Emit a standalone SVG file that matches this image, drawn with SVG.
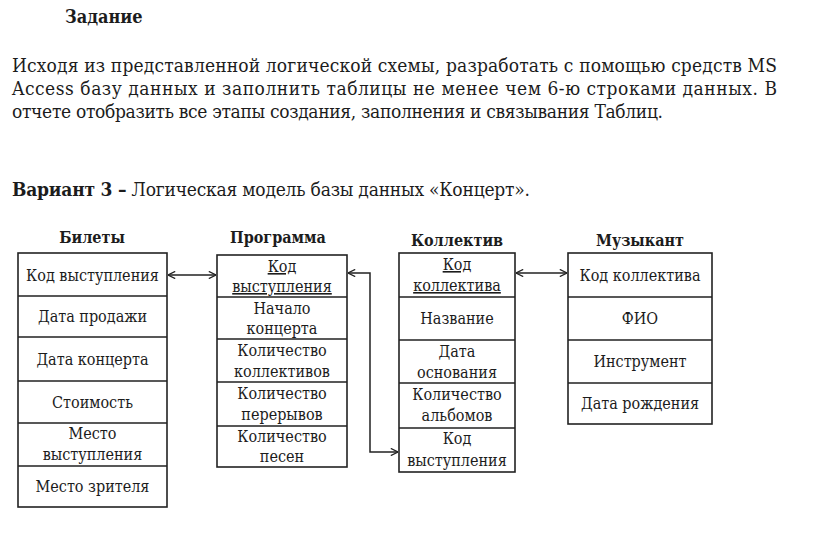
<svg xmlns="http://www.w3.org/2000/svg" width="816" height="542" viewBox="0 0 816 542">
<style>
text{font-family:'DejaVu Serif Condensed','DejaVu Serif',serif;font-stretch:condensed;fill:#1c1c1c}
.h{font-size:18px;font-weight:bold}
.p{font-size:19px}
.t{font-size:16px;font-weight:bold;text-anchor:middle}
.f{font-size:16px;text-anchor:middle}
.u{text-decoration:underline}
.box{fill:#fff;stroke:#222;stroke-width:1.6}
.sep{stroke:#222;stroke-width:1.6}
.c{fill:none;stroke:#222;stroke-width:1.5}
</style>
<defs>
<marker id="ah" viewBox="0 0 10 10" refX="10" refY="5" markerWidth="8" markerHeight="8" markerUnits="userSpaceOnUse" orient="auto-start-reverse">
<path d="M1,0.5 L10,5 L1,9.5" fill="none" stroke="#222" stroke-width="1.6"/>
</marker>
</defs>
<rect width="816" height="542" fill="#fff"/>
<g id="header">
<text class="h" x="65" y="23">Задание</text>
<text class="p" x="12" y="72" textLength="765">Исходя из представленной логической схемы, разработать с помощью средств MS</text>
<text class="p" x="12" y="95" textLength="765">Access базу данных и заполнить таблицы не менее чем 6-ю строками данных. В</text>
<text class="p" x="12" y="118" textLength="651">отчете отобразить все этапы создания, заполнения и связывания Таблиц.</text>
<text class="p" x="12" y="196" textLength="518"><tspan font-weight="bold">Вариант 3 –</tspan> Логическая модель базы данных «Концерт».</text>
</g>
<g id="bilety">
<text class="t" x="92" y="243">Билеты</text>
<rect class="box" x="18" y="253" width="149" height="254"/>
<path class="sep" d="M18,296H167M18,337H167M18,381H167M18,423H167M18,466H167"/>
<text class="f" x="92.5" y="281">Код выступления</text>
<text class="f" x="92.5" y="322">Дата продажи</text>
<text class="f" x="92.5" y="365">Дата концерта</text>
<text class="f" x="92.5" y="408">Стоимость</text>
<text class="f" x="92.5" y="439">Место</text>
<text class="f" x="92.5" y="460">выступления</text>
<text class="f" x="92.5" y="492">Место зрителя</text>
</g>
<g id="programma">
<text class="t" x="278" y="243">Программа</text>
<rect class="box" x="217" y="255" width="130" height="212"/>
<path class="sep" d="M217,297H347M217,339H347M217,382H347M217,426H347"/>
<text class="f u" x="282" y="272">Код</text>
<text class="f u" x="282" y="292">выступления</text>
<text class="f" x="282" y="314">Начало</text>
<text class="f" x="282" y="334">концерта</text>
<text class="f" x="282" y="356">Количество</text>
<text class="f" x="282" y="377">коллективов</text>
<text class="f" x="282" y="399">Количество</text>
<text class="f" x="282" y="420">перерывов</text>
<text class="f" x="282" y="442">Количество</text>
<text class="f" x="282" y="462">песен</text>
</g>
<g id="kollektiv">
<text class="t" x="457" y="246">Коллектив</text>
<rect class="box" x="399" y="253" width="116" height="219"/>
<path class="sep" d="M399,297H515M399,340H515M399,383H515M399,428H515"/>
<text class="f u" x="457" y="270">Код</text>
<text class="f u" x="457" y="291">коллектива</text>
<text class="f" x="457" y="324">Название</text>
<text class="f" x="457" y="357">Дата</text>
<text class="f" x="457" y="378">основания</text>
<text class="f" x="457" y="400">Количество</text>
<text class="f" x="457" y="421">альбомов</text>
<text class="f" x="457" y="444">Код</text>
<text class="f" x="457" y="466">выступления</text>
</g>
<g id="muzykant">
<text class="t" x="640" y="246">Музыкант</text>
<rect class="box" x="568" y="253" width="144" height="171"/>
<path class="sep" d="M568,297H712M568,340H712M568,383H712"/>
<text class="f" x="640" y="281">Код коллектива</text>
<text class="f" x="640" y="324">ФИО</text>
<text class="f" x="640" y="367">Инструмент</text>
<text class="f" x="640" y="409">Дата рождения</text>
</g>
<g id="connectors">
<path class="c" d="M168,275H216" marker-start="url(#ah)" marker-end="url(#ah)"/>
<path class="c" d="M348,273H370V452H398" marker-start="url(#ah)" marker-end="url(#ah)"/>
<path class="c" d="M516,273H567" marker-start="url(#ah)" marker-end="url(#ah)"/>
</g>
</svg>
